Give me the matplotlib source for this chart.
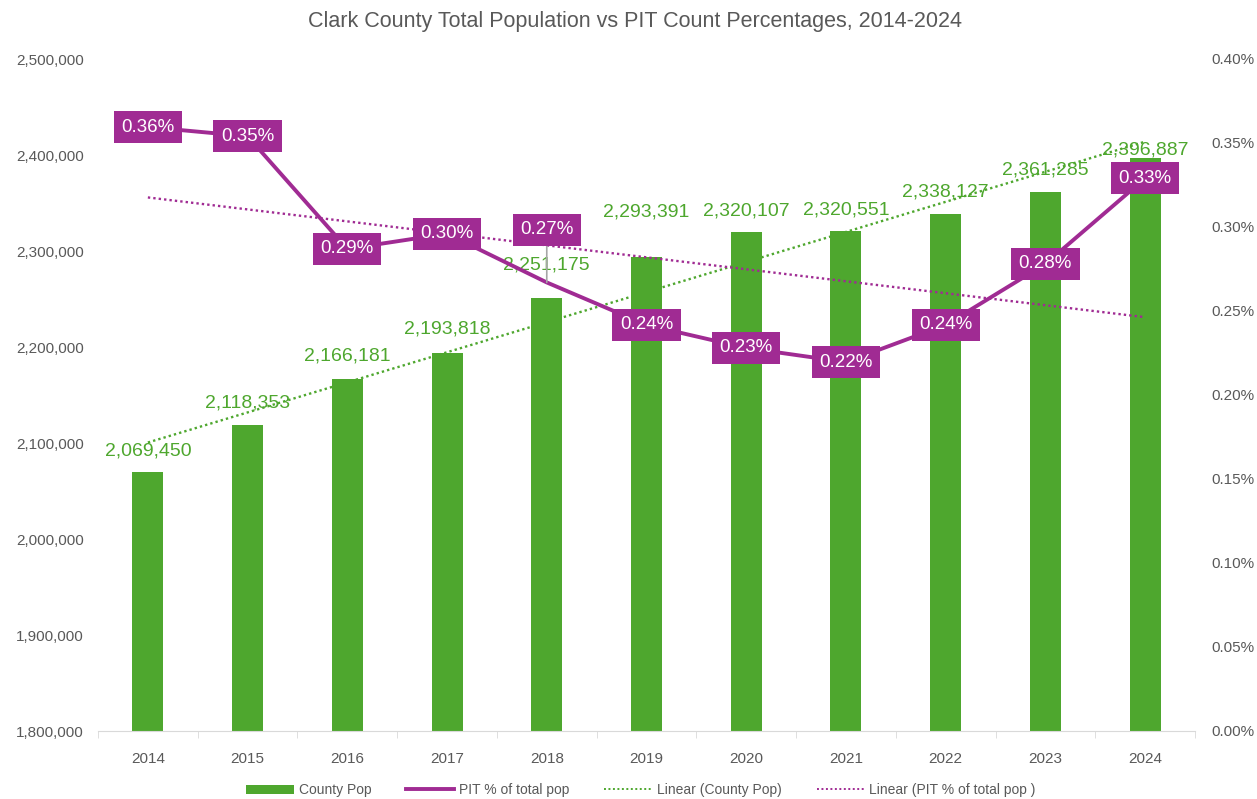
import matplotlib
matplotlib.use("Agg")
import matplotlib.pyplot as plt
import numpy as np
from matplotlib.patches import Patch
from matplotlib.lines import Line2D

years = ["2014", "2015", "2016", "2017", "2018", "2019", "2020", "2021", "2022", "2023", "2024"]
county_pop = [2069450, 2118353, 2166181, 2193818, 2251175, 2293391, 2320107, 2320551, 2338127, 2361285, 2396887]
pit_pct = [0.3595, 0.354, 0.287, 0.296, 0.267, 0.2417, 0.228, 0.2196, 0.2417, 0.278, 0.329]  # percent of total pop

GREEN = "#4EA72E"
PURPLE = "#A02B93"
GRAY = "#595959"

plt.rcParams["font.family"] = ["Liberation Sans", "DejaVu Sans"]

fig = plt.figure(figsize=(12.57, 7.99), dpi=100)
ax = fig.add_axes([98 / 1257, 1 - 731 / 799, (1195 - 98) / 1257, (731 - 59) / 799])
ax2 = ax.twinx()

x = np.arange(len(years))
ax.bar(x, county_pop, width=0.31, color=GREEN, zorder=2)

# linear trendlines
c1 = np.polyfit(x, county_pop, 1)
ax.plot(x, np.polyval(c1, x), linestyle=(0, (1, 1.3)), color=GREEN, lw=1.7, zorder=3)
c2 = np.polyfit(x, pit_pct, 1)
ax2.plot(x, np.polyval(c2, x), linestyle=(0, (1, 1.3)), color=PURPLE, lw=1.7, zorder=3)

ax2.plot(x, pit_pct, color=PURPLE, lw=2.8, zorder=4, solid_capstyle="round")

ax.set_xlim(-0.5, len(years) - 0.5)
ax.set_ylim(1800000, 2500000)
ax.set_yticks(np.arange(1800000, 2500001, 100000))
ax.yaxis.set_major_formatter(matplotlib.ticker.FuncFormatter(lambda v, p: f"{int(v):,}"))
ax2.set_ylim(0, 0.40)
ax2.set_yticks(np.arange(0, 0.4001, 0.05))
ax2.yaxis.set_major_formatter(matplotlib.ticker.FuncFormatter(lambda v, p: f"{v:.2f}%"))

ax.set_xticks(x)
ax.set_xticklabels(years)
ax.set_xticks(np.arange(-0.5, len(years), 1), minor=True)
for a in (ax, ax2):
    for s in a.spines.values():
        s.set_visible(False)
ax.spines["bottom"].set_visible(True)
ax.spines["bottom"].set_color("#D9D9D9")
ax.tick_params(axis="x", which="major", length=0, labelsize=11, labelcolor=GRAY, pad=15)
ax.tick_params(axis="x", which="minor", length=5, color="#D9D9D9", direction="out")
ax.tick_params(axis="y", length=0, labelsize=11, labelcolor=GRAY, pad=10)
ax2.tick_params(axis="y", length=0, labelsize=11, labelcolor=GRAY, pad=12)
ax.set_zorder(1)
ax2.set_zorder(2)
ax.patch.set_visible(False)

# bar labels (offset in points above bar top)
bar_offsets = [15, 16, 17, 17, 24, 33, 15, 15, 16, 16, 6]
for xi, v, off in zip(x, county_pop, bar_offsets):
    ax.annotate(f"{v:,}", (xi, v), xytext=(0, off), textcoords="offset points",
                ha="center", va="center", color=GREEN, fontsize=14, zorder=5)

# percent labels
pct_offsets = [0, 0, 0, 0, 38, 0, 0, 0, 0, 0, 0]
for xi, v, off in zip(x, pit_pct, pct_offsets):
    kw = {}
    if off:
        kw["arrowprops"] = dict(arrowstyle="-", color="#A6A6A6", lw=1.2, shrinkA=0, shrinkB=0)
    ax2.annotate(f"{v:.2f}%", (xi, v), xytext=(0, off), textcoords="offset points",
                 ha="center", va="center", color="white", fontsize=13.5, zorder=6,
                 bbox=dict(boxstyle="square,pad=0.4", fc=PURPLE, ec="none"), **kw)

fig.text(0.505, 1 - 21 / 799, "Clark County Total Population vs PIT Count Percentages, 2014-2024",
         ha="center", va="center", fontsize=15.5, color=GRAY)

handles = [
    Patch(facecolor=GREEN, edgecolor="none"),
    Line2D([], [], color=PURPLE, lw=2.8),
    Line2D([], [], color=GREEN, lw=1.4, linestyle=(0, (1, 1.3))),
    Line2D([], [], color=PURPLE, lw=1.4, linestyle=(0, (1, 1.3))),
]
labels = ["County Pop", "PIT % of total pop", "Linear (County Pop)", "Linear (PIT % of total pop )"]
fig.legend(handles, labels, loc="center", bbox_to_anchor=(0.51, 1 - 790 / 799), ncol=4,
           frameon=False, prop={"size": 10}, labelcolor=GRAY,
           handlelength=3.4, handleheight=0.6, columnspacing=2.5, handletextpad=0.4)

fig.savefig("out.png", dpi=100, facecolor="white")
